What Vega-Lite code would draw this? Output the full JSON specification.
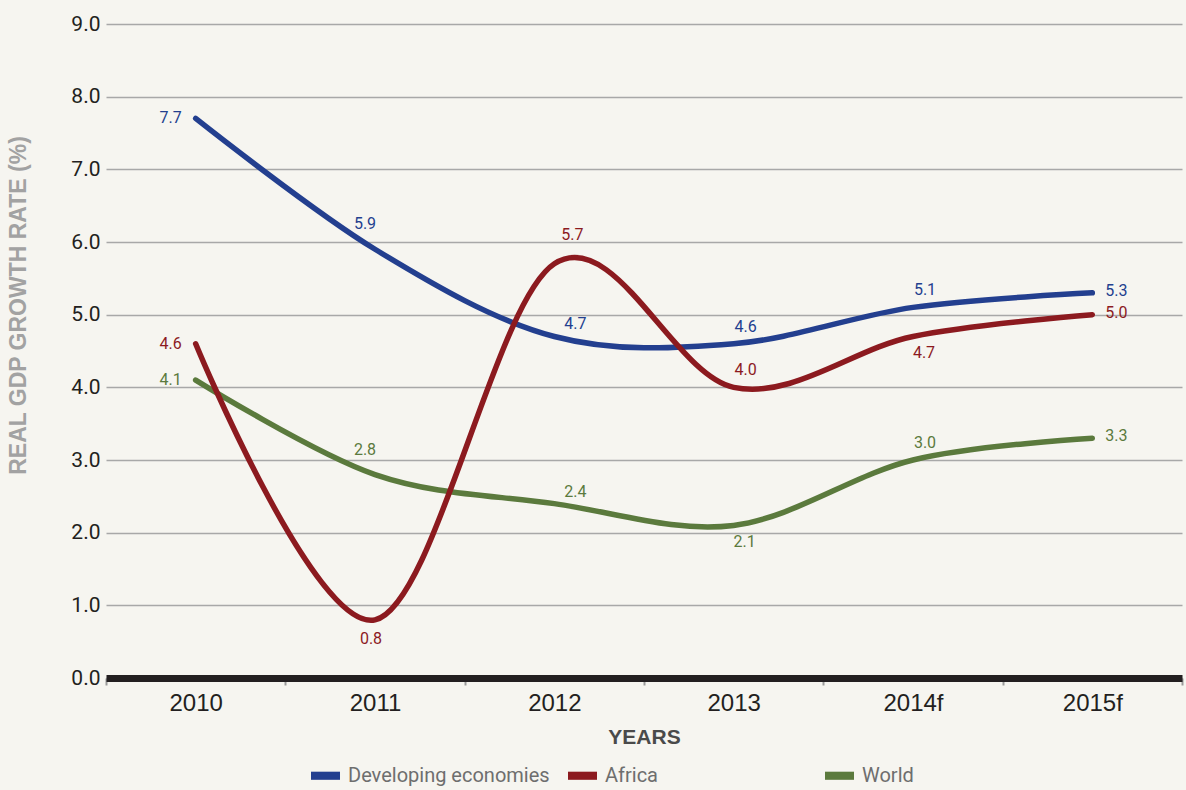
{
  "$schema": "https://vega.github.io/schema/vega-lite/v6.json",
  "width": 1076,
  "height": 654,
  "autosize": {"type": "none"},
  "padding": {"left": 106, "top": 24, "right": 4, "bottom": 112},
  "background": "#f6f5f0",
  "config": {
    "view": {"stroke": null},
    "font": "Roboto"
  },
  "data": {
    "values": [
      {"year": "2010", "series": "Developing economies", "value": 7.7},
      {"year": "2011", "series": "Developing economies", "value": 5.9},
      {"year": "2012", "series": "Developing economies", "value": 4.7},
      {"year": "2013", "series": "Developing economies", "value": 4.6},
      {"year": "2014f", "series": "Developing economies", "value": 5.1},
      {"year": "2015f", "series": "Developing economies", "value": 5.3},
      {"year": "2010", "series": "World", "value": 4.1},
      {"year": "2011", "series": "World", "value": 2.8},
      {"year": "2012", "series": "World", "value": 2.4},
      {"year": "2013", "series": "World", "value": 2.1},
      {"year": "2014f", "series": "World", "value": 3.0},
      {"year": "2015f", "series": "World", "value": 3.3},
      {"year": "2010", "series": "Africa", "value": 4.6},
      {"year": "2011", "series": "Africa", "value": 0.8},
      {"year": "2012", "series": "Africa", "value": 5.7},
      {"year": "2013", "series": "Africa", "value": 4.0},
      {"year": "2014f", "series": "Africa", "value": 4.7},
      {"year": "2015f", "series": "Africa", "value": 5.0}
    ]
  },
  "encoding": {
    "x": {
      "field": "year",
      "type": "ordinal",
      "sort": ["2010", "2011", "2012", "2013", "2014f", "2015f"],
      "scale": {"type": "band", "paddingInner": 0, "paddingOuter": 0},
      "axis": {
        "title": "YEARS",
        "titleFont": "Liberation Sans",
        "titleFontWeight": "bold",
        "titleFontSize": 21,
        "titleColor": "#4a4a4a",
        "titlePadding": 11,
        "labelFont": "Liberation Sans",
        "labelFontSize": 24,
        "labelColor": "#231f20",
        "labelAngle": 0,
        "labelPadding": 6,
        "tickBand": "extent",
        "tickSize": 7,
        "tickWidth": 2,
        "tickColor": "#9a9a9a",
        "domainColor": "#231f20",
        "domainWidth": 7,
        "domainCap": "butt",
        "grid": false
      }
    },
    "y": {
      "field": "value",
      "type": "quantitative",
      "scale": {"domain": [0, 9], "nice": false, "zero": true},
      "axis": {
        "title": "REAL GDP GROWTH RATE (%)",
        "titleFont": "Liberation Sans",
        "titleFontWeight": "bold",
        "titleFontSize": 23,
        "titleColor": "#a2a2a2",
        "titleX": -76,
        "titleY": 281,
        "titleAngle": -90,
        "values": [0, 1, 2, 3, 4, 5, 6, 7, 8, 9],
        "format": ".1f",
        "labelFontSize": 21,
        "labelColor": "#231f20",
        "labelPadding": 6,
        "ticks": false,
        "domain": false,
        "grid": true,
        "gridColor": "#a8a8a8",
        "gridWidth": 1.3
      }
    },
    "color": {
      "field": "series",
      "type": "nominal",
      "scale": {
        "domain": ["Developing economies", "Africa", "World"],
        "range": ["#233f8f", "#8c1a1f", "#5b7a3d"]
      },
      "legend": null
    }
  },
  "layer": [
    {
      "mark": {"type": "line", "interpolate": "cardinal", "strokeWidth": 5.5, "strokeCap": "round"},
      "encoding": {
        "color": {
          "field": "series",
          "type": "nominal",
          "legend": {
            "title": null,
            "orient": "none",
            "legendX": 205,
            "legendY": 737,
            "direction": "horizontal",
            "columns": 3,
            "gridAlign": "all",
            "columnPadding": 18,
            "symbolType": "M-1,-0.28H1V0.28H-1Z",
            "symbolSize": 841,
            "symbolStrokeWidth": 0,
            "labelFontSize": 20,
            "labelColor": "#6e6e6e",
            "labelOffset": 8,
            "labelLimit": 400
          }
        }
      }
    },
    {
      "transform": [{"filter": "datum.year === '2010'"}],
      "mark": {"type": "text", "dx": -25, "dy": 0, "fontSize": 16},
      "encoding": {"text": {"field": "value", "type": "quantitative", "format": ".1f"}}
    },
    {
      "transform": [{"filter": "datum.year === '2015f'"}],
      "mark": {"type": "text", "dx": 24, "dy": -2, "fontSize": 16},
      "encoding": {"text": {"field": "value", "type": "quantitative", "format": ".1f"}}
    },
    {
      "transform": [{"filter": "datum.year === '2011' && datum.series !== 'Africa'"}],
      "mark": {"type": "text", "dx": -10, "dy": -25, "fontSize": 16},
      "encoding": {"text": {"field": "value", "type": "quantitative", "format": ".1f"}}
    },
    {
      "transform": [{"filter": "(datum.year === '2013' && datum.series !== 'World') || (datum.year === '2014f' && datum.series !== 'Africa')"}],
      "mark": {"type": "text", "dx": 12, "dy": -17, "fontSize": 16},
      "encoding": {"text": {"field": "value", "type": "quantitative", "format": ".1f"}}
    },
    {
      "transform": [{"filter": "datum.year === '2012' && datum.series !== 'Africa'"}],
      "mark": {"type": "text", "dx": 21, "dy": -12, "fontSize": 16},
      "encoding": {"text": {"field": "value", "type": "quantitative", "format": ".1f"}}
    },
    {
      "transform": [{"filter": "datum.year === '2012' && datum.series === 'Africa'"}],
      "mark": {"type": "text", "dx": 18, "dy": -29, "fontSize": 16},
      "encoding": {"text": {"field": "value", "type": "quantitative", "format": ".1f"}}
    },
    {
      "transform": [{"filter": "datum.year === '2011' && datum.series === 'Africa'"}],
      "mark": {"type": "text", "dx": -4, "dy": 19, "fontSize": 16},
      "encoding": {"text": {"field": "value", "type": "quantitative", "format": ".1f"}}
    },
    {
      "transform": [{"filter": "(datum.year === '2014f' && datum.series === 'Africa') || (datum.year === '2013' && datum.series === 'World')"}],
      "mark": {"type": "text", "dx": 11, "dy": 17, "fontSize": 16},
      "encoding": {"text": {"field": "value", "type": "quantitative", "format": ".1f"}}
    }
  ]
}
